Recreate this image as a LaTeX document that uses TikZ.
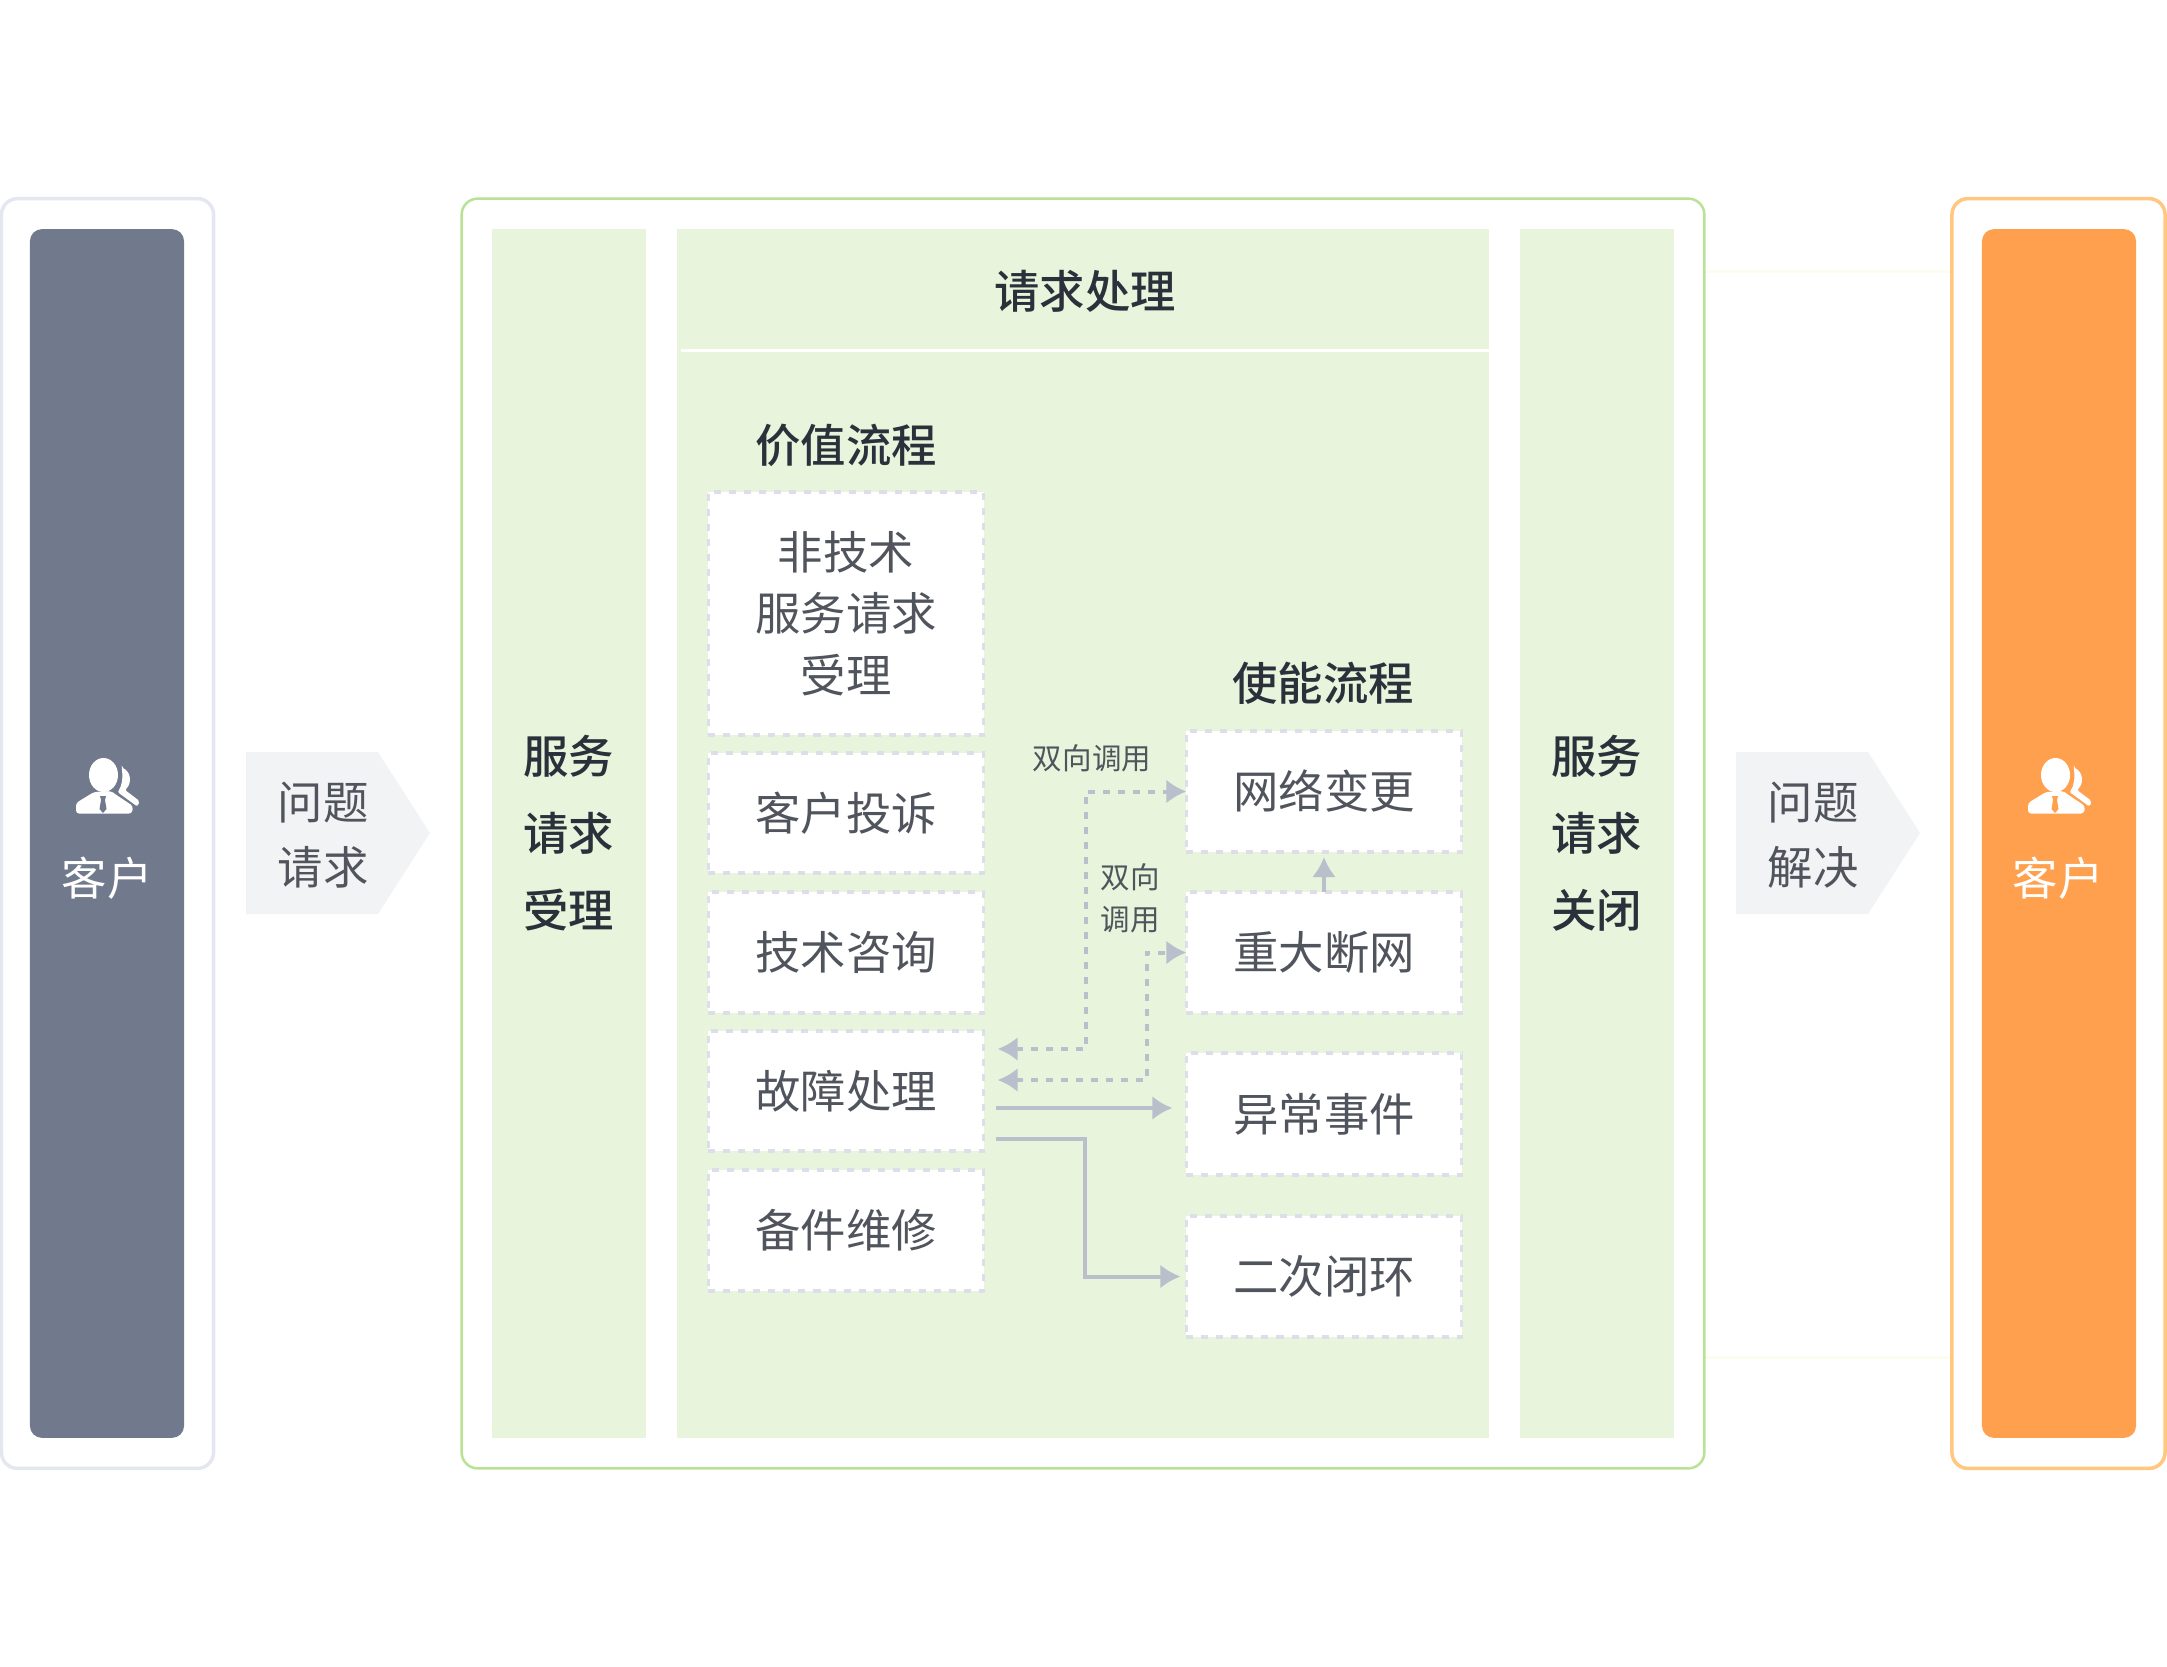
\documentclass[tikz,border=0pt]{standalone}
\usepackage{fontspec}
\usepackage{xcolor}
\usetikzlibrary{arrows.meta}

\newfontfamily\cjk[BoldFont={Noto Sans CJK SC Medium}]{Noto Sans CJK SC}

\definecolor{slatefill}{HTML}{717A8C}
\definecolor{slateline}{HTML}{E4E7F0}
\definecolor{orangefill}{HTML}{FFA04F}
\definecolor{orangeline}{HTML}{FFC77F}
\definecolor{greenfill}{HTML}{E8F4DB}
\definecolor{greenline}{HTML}{B9E295}
\definecolor{paleline}{HTML}{FBFEEF}
\definecolor{tagfill}{HTML}{F2F3F5}
\definecolor{dashgrey}{HTML}{DCDFEA}
\definecolor{linkgrey}{HTML}{BBBFCC}
\definecolor{bodytext}{HTML}{50545C}
\definecolor{headtext}{HTML}{2B303B}

\tikzset{
  frame/.style={draw, rounded corners=0.16cm, line width=0.035cm, fill=white, minimum height=12.69cm, inner sep=0pt, outer sep=0pt},
  bar/.style={fill=#1, rounded corners=0.12cm, minimum width=1.54cm, minimum height=12.08cm, inner sep=0pt, outer sep=0pt},
  band/.style={fill=greenfill, minimum height=12.08cm, inner sep=0pt, outer sep=0pt},
  head/.style={font=\cjk\bfseries\fontsize{12.9}{21.9}\selectfont, text=headtext, align=center, inner sep=0pt},
  body/.style={font=\cjk\fontsize{12.9}{17.5}\selectfont, text=bodytext, align=center, inner sep=0pt},
  flowbox/.style={body, draw=dashgrey, fill=white, line width=0.035cm, dash pattern=on 0.07cm off 0.08cm, minimum width=2.75cm, outer sep=0pt},
  tagtext/.style={font=\cjk\fontsize{12.9}{18.4}\selectfont, text=bodytext, align=center, inner sep=0pt},
  smalltext/.style={font=\cjk\fontsize{8.4}{11.9}\selectfont, text=bodytext, align=center, inner sep=0pt},
  whitetext/.style={font=\cjk\fontsize{12.9}{15}\selectfont, text=white, inner sep=0pt},
  link/.style={draw=linkgrey, line width=0.04cm, -{Latex[length=0.2cm,width=0.24cm]}},
  calllink/.style={draw=linkgrey, line width=0.04cm, dash pattern=on 0.07cm off 0.08cm, {Latex[length=0.2cm,width=0.24cm]}-{Latex[length=0.2cm,width=0.24cm]}},
  pics/personicon/.style={code={
    \fill[white] (0.5,-13) ellipse (14.5 and 17);
    \fill[white, rounded corners=0.03cm] (-27,25.5) -- (-27,15) -- (-9,4) -- (8,3) -- (12,6) -- (30,18) -- (29,25.5) -- cycle;
    \fill[white, rounded corners=0.02cm] (18.7,-20.5) .. controls (28,-16) and (29,-5) .. (22,2) -- (36.8,13.2) -- (34.3,18.5) -- (14.5,4) .. controls (19,-2) and (20,-10) .. cycle;
    \fill[#1] (-3,8) -- (3,8) -- (2,12) -- (3.5,21) -- (0,25) -- (-3.5,21) -- (-2,12) -- cycle;
  }}
}

\begin{document}
\begin{tikzpicture}[x=0.01cm,y=-0.01cm]

  \useasboundingbox (0,0) rectangle (2167,1667);

  % faint outline behind the right gap
  \draw[paleline, line width=0.03cm] (1703,272) rectangle (1974,1357);

  % outer frames
  \node[frame, draw=slateline, minimum width=2.12cm] (leftframe) at (107.5,833.5) {};
  \node[frame, draw=greenline, line width=0.025cm, minimum width=12.42cm] (midframe) at (1083,833.5) {};
  \node[frame, draw=orangeline, minimum width=2.13cm] (rightframe) at (2058.5,833.5) {};

  % customer bars
  \node[bar=slatefill] (leftbar) at (107,833.5) {};
  \node[bar=orangefill] (rightbar) at (2059,833.5) {};
  \pic at (103,788) {personicon={slatefill}};
  \pic at (2055,788) {personicon={orangefill}};
  \node[whitetext] (leftcustomer) at (107,878) {客户};
  \node[whitetext] (rightcustomer) at (2058,878) {客户};

  % tags between the frames
  \foreach \dx in {0,1490} \fill[tagfill] (246+\dx,752) -- (378+\dx,752) -- (430+\dx,833) -- (378+\dx,914) -- (246+\dx,914) -- cycle;
  \node[tagtext] (asktag) at (323,835) {问题\\请求};
  \node[tagtext] (solvetag) at (1813,835) {问题\\解决};

  % green columns
  \node[band, minimum width=1.54cm] (acceptband) at (569,833.5) {};
  \node[band, minimum width=8.12cm] (handleband) at (1083,833.5) {};
  \node[band, minimum width=1.54cm] (closeband) at (1597,833.5) {};
  \draw[white, line width=0.03cm] (681,351) -- (1489,351);

  % headings
  \node[head] (accepthead) at (568.5,833) {服务\\请求\\受理};
  \node[head] (closehead) at (1596.5,833) {服务\\请求\\关闭};
  \node[head] (handlehead) at (1085,291) {请求处理};
  \node[head] (valuehead) at (846,445) {价值流程};
  \node[head] (enablehead) at (1323,683) {使能流程};

  % value flow boxes
  \foreach \name/\ypos/\hgt/\txt in {nontech/613.5/2.43cm/{非技术\\服务请求\\受理}, complaint/813/1.20cm/客户投诉, consult/952.5/1.21cm/技术咨询, fault/1091/1.20cm/故障处理, spare/1230.5/1.21cm/备件维修}
    \node[flowbox, minimum height=\hgt] (\name) at (846,\ypos) {\txt};

  % enabling flow boxes
  \foreach \name/\ypos/\hgt/\txt in {change/791.5/1.21cm/网络变更, outage/952.5/1.21cm/重大断网, event/1114/1.22cm/异常事件, closure/1276.5/1.21cm/二次闭环}
    \node[flowbox, minimum height=\hgt] (\name) at (1324,\ypos) {\txt};

  % links
  \draw[calllink] ([shift={(14,-42)}]fault.east) -- ++(88,0) |- (change.west);
  \draw[calllink] ([shift={(14,-11)}]fault.east) -- ++(149,0) |- (outage.west);
  \draw[link] (outage.north) -- ([shift={(0,5)}]change.south);
  \draw[link] ([shift={(12,17)}]fault.east) -- ([shift={(-14,-6)}]event.west);
  \draw[link] ([shift={(12,48)}]fault.east) -- ++(89,0) |- ([shift={(-6,0)}]closure.west);

  \node[smalltext] (calltop) at (1092,758) {双向调用};
  \node[smalltext] (callside) at (1130,898) {双向\\调用};

\end{tikzpicture}
\end{document}
